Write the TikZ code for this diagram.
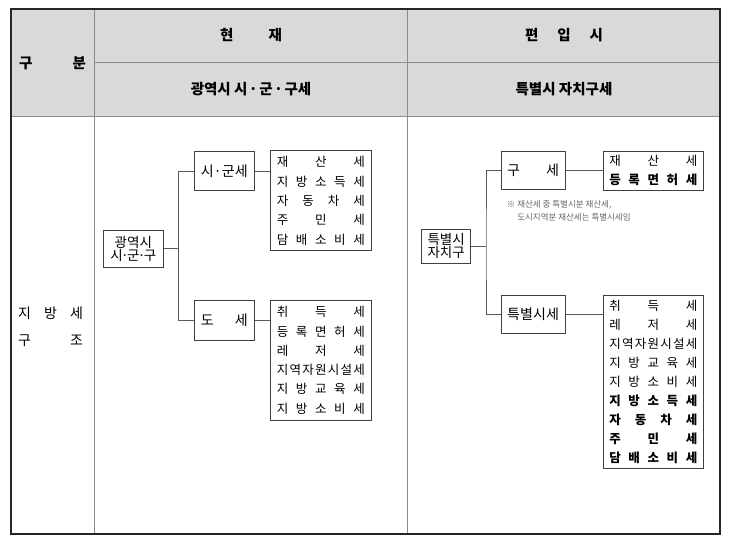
\documentclass[tikz,border=0pt]{standalone}
\usepackage{fontspec}
\setmainfont{Noto Sans CJK KR}
\usepackage{tikz}
\usetikzlibrary{calc}
\tikzset{
txframe/.style={draw=black!85,line width=2pt},
txrule/.style={draw=black!45,line width=0.9pt},
txhead/.style={font=\fontsize{14.5}{16}\selectfont\bfseries,inner sep=0pt},
txside/.style={font=\fontsize{14}{27}\selectfont,inner sep=0pt,align=center},
txbox/.style={rectangle,draw=black!75,line width=1pt,inner sep=0pt,align=center,font=\fontsize{14}{13.5}\selectfont},
txlist/.style={txbox,font=\fontsize{12.5}{19.3}\selectfont},
txlistr/.style={txbox,font=\fontsize{12.5}{19}\selectfont},
txlink/.style={draw=black!65,line width=1pt},
txnote/.style={font=\fontsize{8.5}{12.7}\selectfont,text=black!60,align=left,inner sep=0pt}
}
\newcommand{\txrow}[1]{\makebox[88pt][s]{#1}}
\newcommand{\txdot}{\hspace{1.5pt}·\hspace{1.5pt}}
\newcommand{\txtight}{\hspace{-1.6pt}·\hspace{-1.6pt}}

\begin{document}
\begin{tikzpicture}[
x=1pt,
y=-1pt
]
\useasboundingbox (0,0) rectangle (730,540);
\fill[black!15] (11,9) rectangle (720,116);
\draw[txrule] (94.5,9)--(94.5,534);
\draw[txrule] (407.7,9)--(407.7,534);
\draw[txrule] (94.5,62)--(720,62);
\draw[txrule] (11,116)--(720,116);
\draw[txframe] (11,9) rectangle (720,534);
\node[txhead] (gubun) at (52.5,63) {\makebox[67pt][s]{구\hfill 분}};
\node[txhead] (now) at (251,35.5) {\makebox[62pt][s]{현\hfill 재}};
\node[txhead] (after) at (564,35.5) {\makebox[78pt][s]{편\hfill 입\hfill 시}};
\node[txhead] (nowsub) at (251,89) {광역시 시\txdot 군\txdot 구세};
\node[txhead] (aftersub) at (564,89) {특별시 자치구세};
\node[txside] (side) at (50.5,326.5) {\makebox[65pt][s]{지\hfill 방\hfill 세}\\\makebox[65pt][s]{구\hfill 조}};
\node[txbox,minimum width=60pt,minimum height=37.3pt,font=\fontsize{13.5}{13}\selectfont]
  (metro) at (133.3,248.7) {광역시\\시\txtight 군\txtight 구};
\node[txbox,minimum width=60pt,minimum height=39.3pt]
  (sigun) at (224.3,171.3) {\makebox[47pt][s]{시\hfill ·\hfill 군\hfill 세}};
\node[txbox,minimum width=60pt,minimum height=40pt]
  (dose) at (224.3,320.7) {\makebox[47pt][s]{도\hfill 세}};
\node[txlist,minimum width=100.3pt,minimum height=99.7pt]
  (sigunlist) at (320.85,200.85) {\txrow{재\hfill 산\hfill 세}\\
  \txrow{지\hfill 방\hfill 소\hfill 득\hfill 세}\\
  \txrow{자\hfill 동\hfill 차\hfill 세}\\
  \txrow{주\hfill 민\hfill 세}\\
  \txrow{담\hfill 배\hfill 소\hfill 비\hfill 세}};
\node[txlist,minimum width=100.3pt,minimum height=119.3pt]
  (doselist) at (320.85,360.35) {\txrow{취\hfill 득\hfill 세}\\
  \txrow{등\hfill 록\hfill 면\hfill 허\hfill 세}\\
  \txrow{레\hfill 저\hfill 세}\\
  \txrow{지\hfill 역\hfill 자\hfill 원\hfill 시\hfill 설\hfill 세}\\
  \txrow{지\hfill 방\hfill 교\hfill 육\hfill 세}\\
  \txrow{지\hfill 방\hfill 소\hfill 비\hfill 세}};
\node[txbox,minimum width=49pt,minimum height=34.3pt,font=\fontsize{13.5}{13}\selectfont]
  (special) at (446.2,246.2) {특별시\\자치구};
\node[txbox,minimum width=64pt,minimum height=37.6pt]
  (gu) at (533,170.5) {\makebox[52pt][s]{구\hfill 세}};
\node[txlistr,minimum width=100pt,minimum height=38.3pt]
  (gulist) at (653.3,170.85) {\txrow{재\hfill 산\hfill 세}\\
  \txrow{\bfseries 등\hfill 록\hfill 면\hfill 허\hfill 세}};
\node[txnote,anchor=north west]
  (note) at (506.7,200.5) {※ 재산세 중 특별시분 재산세,\\\hphantom{※\ }도시지역분 재산세는 특별시세임};
\node[txbox,minimum width=64pt,minimum height=38.3pt]
  (citytax) at (533,314.2) {\makebox[52pt][s]{특\hfill 별\hfill 시\hfill 세}};
\node[txlistr,minimum width=100pt,minimum height=173.3pt]
  (citylist) at (653.3,381.65) {\txrow{취\hfill 득\hfill 세}\\
  \txrow{레\hfill 저\hfill 세}\\
  \txrow{지\hfill 역\hfill 자\hfill 원\hfill 시\hfill 설\hfill 세}\\
  \txrow{지\hfill 방\hfill 교\hfill 육\hfill 세}\\
  \txrow{지\hfill 방\hfill 소\hfill 비\hfill 세}\\
  \txrow{\bfseries 지\hfill 방\hfill 소\hfill 득\hfill 세}\\
  \txrow{\bfseries 자\hfill 동\hfill 차\hfill 세}\\
  \txrow{\bfseries 주\hfill 민\hfill 세}\\
  \txrow{\bfseries 담\hfill 배\hfill 소\hfill 비\hfill 세}};
\coordinate (jL) at (178.3,248.7);
\coordinate (jR) at (486,246.2);
\draw[txlink] (metro.east)--(jL);
\draw[txlink] (sigun.west) -| (jL) |- (dose.west);
\draw[txlink] (sigun.east)--(sigun.east -| sigunlist.west);
\draw[txlink] (dose.east)--(dose.east -| doselist.west);
\draw[txlink] (special.east)--(jR);
\draw[txlink] (gu.west) -| (jR) |- (citytax.west);
\draw[txlink] (gu.east)--(gu.east -| gulist.west);
\draw[txlink] (citytax.east)--(citytax.east -| citylist.west);
\end{tikzpicture}
\end{document}
